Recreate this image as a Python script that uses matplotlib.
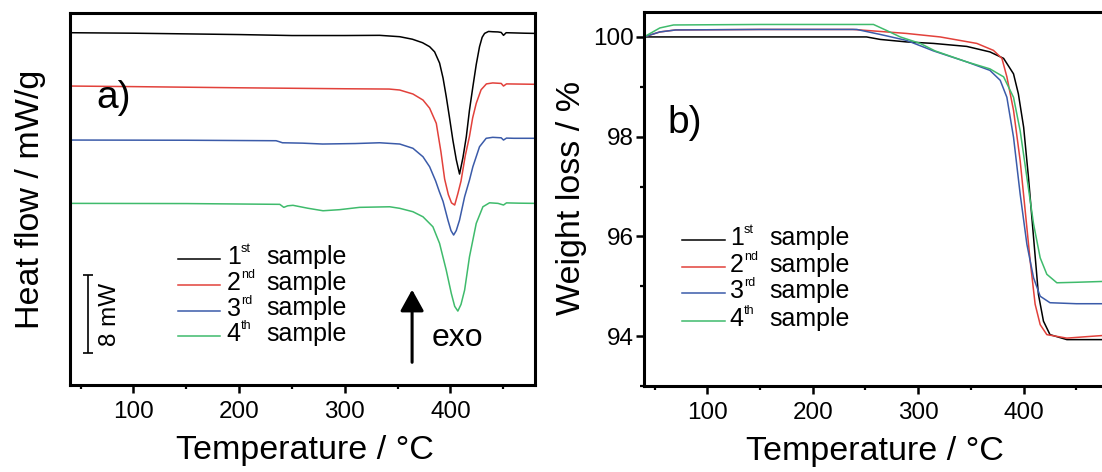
import matplotlib
matplotlib.use('Agg')
import matplotlib.pyplot as pyplot
import numpy

pyplot.rcParams['font.family'] = ['Liberation Sans', 'DejaVu Sans']

# ---- a) DSC curves (heat flow, arbitrary offset, mW units) ----
dscT1 = [40, 100, 150, 200, 250, 300, 333, 352, 364, 373.6, 380.3, 385, 389.7, 393, 396, 399,
         402.3, 405.5, 408.6, 411.8, 415, 418, 421.2, 424.4, 427.5, 430, 432.3, 436, 440, 445,
         448, 450.2, 452.7, 460, 470, 480]
dscY1 = [36.27, 36.22, 36.15, 36.08, 35.98, 35.98, 36.0, 35.86, 35.6, 35.24, 34.83, 34.3, 33.15,
         31.6, 29.7, 27.6, 25.2, 23.2, 21.72, 23.4, 25.56, 28.3, 30.7, 33.0, 34.83, 35.8, 36.2,
         36.4, 36.37, 36.35, 36.3, 36.0, 36.27, 36.25, 36.22, 36.2]

dscT2 = [40, 100, 200, 300, 342, 352, 364.5, 374, 380.3, 386.6, 391, 394.5, 398, 401, 404, 407,
         410, 414, 418, 421, 424.4, 429, 434, 440, 448, 450.2, 453, 460, 480]
dscY2 = [30.78, 30.72, 30.6, 30.5, 30.47, 30.37, 29.96, 29.34, 28.5, 26.94, 24.0, 21.2, 19.6,
         18.75, 18.53, 19.7, 21.0, 23.6, 25.6, 27.5, 29.0, 30.4, 31.0, 31.1, 31.05, 30.78, 31.0,
         30.99, 30.96]

dscT3 = [40, 150, 235, 238, 241, 260, 279, 310, 333, 352, 364.5, 374, 380.3, 386, 389.5, 393,
         397.6, 400.5, 403, 405.5, 408.6, 413.4, 418, 421.2, 427.5, 433.8, 440, 448, 450.2, 453,
         460, 480]
dscY3 = [25.22, 25.2, 25.15, 25.05, 24.94, 24.9, 24.81, 24.86, 24.94, 24.81, 24.37, 23.5, 22.47,
         21.0, 19.9, 18.9, 16.98, 15.9, 15.44, 15.9, 16.98, 19.38, 21.1, 22.47, 24.53, 25.4, 25.5,
         25.45, 25.22, 25.42, 25.4, 25.4]

dscT4 = [40, 150, 238.5, 242.3, 246, 251, 265, 279.4, 295, 314, 342.5, 352, 364.5, 374, 383.4,
         389.7, 396, 400.8, 404, 407, 410, 413.4, 418, 424.4, 430.7, 437, 445, 450.2, 453, 465, 480]
dscY4 = [18.7, 18.68, 18.6, 18.29, 18.45, 18.5, 18.2, 17.94, 18.05, 18.29, 18.35, 18.19, 17.84,
         17.32, 16.29, 14.58, 11.83, 9.43, 8.1, 7.61, 8.3, 9.77, 13.2, 16.64, 18.35, 18.76, 18.7,
         18.53, 18.75, 18.72, 18.7]

# ---- b) TGA curves (weight %) ----
tgaT1 = [40, 100, 200, 251, 264, 289, 314.5, 346, 368, 381, 390.4, 395, 400, 404.6, 409.4, 414,
         418.8, 425, 441, 460, 480]
tgaW1 = [100.0, 100.0, 100.0, 100.0, 99.95, 99.9, 99.87, 99.81, 99.7, 99.57, 99.26, 98.86, 98.19,
         97.18, 95.98, 94.84, 94.3, 94.03, 93.93, 93.93, 93.93]

tgaT2 = [40, 55, 70, 150, 238, 257.6, 289, 320.8, 355.6, 371.4, 379.4, 384.1, 390.4, 396.7, 401.5,
         406.2, 410.9, 415.7, 422, 441, 460, 480]
tgaW2 = [100.0, 100.1, 100.14, 100.15, 100.15, 100.12, 100.07, 100.0, 99.87, 99.73, 99.57, 99.2,
         98.53, 97.52, 96.51, 95.51, 94.64, 94.23, 94.03, 93.96, 93.99, 94.02]

tgaT3 = [40, 55, 70, 150, 241.8, 264, 289, 314.5, 346, 368, 377.8, 384.1, 390.4, 396.7, 403.1,
         409.4, 415.7, 425, 450, 480]
tgaW3 = [100.0, 100.1, 100.14, 100.15, 100.15, 100.05, 99.93, 99.72, 99.5, 99.33, 99.13, 98.79,
         97.99, 96.85, 95.84, 95.17, 94.8, 94.67, 94.65, 94.65]

tgaT4 = [40, 55, 68, 150, 257.6, 270, 283, 301.9, 316, 346, 368, 381, 390.4, 396.7, 403.1, 409.4,
         415.7, 422, 431.5, 450, 480]
tgaW4 = [100.0, 100.18, 100.24, 100.25, 100.25, 100.13, 100.0, 99.87, 99.72, 99.5, 99.36, 99.2,
         98.79, 98.12, 97.18, 96.25, 95.57, 95.24, 95.07, 95.08, 95.1]

colors = ['black', '#e2413b', '#3b5ba9', '#3fbb6c']
ordinals = ['1', '2', '3', '4']
suffixes = ['st', 'nd', 'rd', 'th']
word = 'sample'

scaleBar = 8  # mW
scaleBarBase = 3.3
scaleBarX = 57.3


def styleAxes(ax):
    for spine in ax.spines.values():
        spine.set_linewidth(2.2)
    ax.set_xlim(40, 480)
    ax.set_xticks([100, 200, 300, 400])
    ax.set_xticks([50, 150, 250, 350, 450], minor=True)
    ax.tick_params(axis='both', which='major', direction='out', length=5.5, width=1.8,
                   labelsize=17.5, pad=6)
    ax.tick_params(axis='both', which='minor', direction='out', length=3, width=1.6)
    ax.tick_params(top=False, right=False, which='both')


def drawLegend(ax, xLine, xNum, xSup, xWord, ys, hPx):
    for c, n, s, y in zip(colors, ordinals, suffixes, ys):
        ax.plot(xLine, [y, y], color=c, lw=1.1, transform=ax.transAxes, clip_on=False)
        ax.text(xNum, y - 5.0 / hPx, n, transform=ax.transAxes, fontsize=18, va='baseline')
        ax.text(xSup, y + 7.0 / hPx, s, transform=ax.transAxes, fontsize=9, va='baseline')
        ax.text(xWord, y - 5.0 / hPx, word, transform=ax.transAxes, fontsize=18, va='baseline')


fig = pyplot.figure(figsize=(11.02, 4.72), dpi=100)

# left panel
axA = fig.add_axes([70 / 1102, 87 / 472, 465 / 1102, 372 / 472])
styleAxes(axA)
axA.set_ylim(0, 38.3)
axA.set_yticks([])
for t, y, c in zip([dscT1, dscT2, dscT3, dscT4], [dscY1, dscY2, dscY3, dscY4], colors):
    axA.plot(t, y, color=c, lw=1.1)

axA.errorbar([scaleBarX], [scaleBarBase + scaleBar / 2], yerr=scaleBar / 2, color='black',
             lw=1.2, capsize=3.5, capthick=1.2)
axA.text(77.8, scaleBarBase + scaleBar / 2, '8 mW', rotation=90, fontsize=17.5,
         ha='center', va='center')
axA.annotate('', xy=(363.7, 10.1), xytext=(363.7, 2.05),
             arrowprops=dict(arrowstyle='-|>,head_width=0.36,head_length=0.65',
                             mutation_scale=20, lw=2.2, color='black'))
axA.text(406.7, 4.83, 'exo', fontsize=23, ha='center', va='center')
axA.text(0.0568, 0.771, 'a)', transform=axA.transAxes, fontsize=28, va='center')

axA.set_xlabel('Temperature / °C', fontsize=24.5)
axA.xaxis.set_label_coords(0.5045, -0.135)
axA.set_ylabel('Heat flow / mW/g', fontsize=24.5)
axA.yaxis.set_label_coords(-0.0525, 0.5)
drawLegend(axA, [0.233, 0.323], 0.337, 0.368, 0.4215,
           [(385 - 259) / 372, (385 - 285) / 372, (385 - 310.5) / 372, (385 - 336) / 372], 372)

# right panel (cropped at the right edge of the picture)
axB = fig.add_axes([644 / 1102, 86 / 472, 464 / 1102, 374 / 472])
styleAxes(axB)
axB.set_ylim(93, 100.5)
axB.set_yticks([94, 96, 98, 100])
axB.set_yticks([93, 95, 97, 99], minor=True)
axB.tick_params(axis='y', pad=2)
for t, w, c in zip([tgaT1, tgaT2, tgaT3, tgaT4], [tgaW1, tgaW2, tgaW3, tgaW4], colors):
    axB.plot(t, w, color=c, lw=1.1)
axB.text(0.0496, 0.703, 'b)', transform=axB.transAxes, fontsize=28, va='center')

axB.set_xlabel('Temperature / °C', fontsize=24.5)
axB.xaxis.set_label_coords(0.498, -0.135)
axB.set_ylabel('Weight loss / %', fontsize=24.5)
axB.yaxis.set_label_coords(-0.123, 0.503)
drawLegend(axB, [0.081, 0.174], 0.185, 0.2155, 0.269,
           [(386 - 240) / 374, (386 - 266.7) / 374, (386 - 293.3) / 374, (386 - 320.7) / 374], 374)

fig.savefig('out.png', dpi=100)
